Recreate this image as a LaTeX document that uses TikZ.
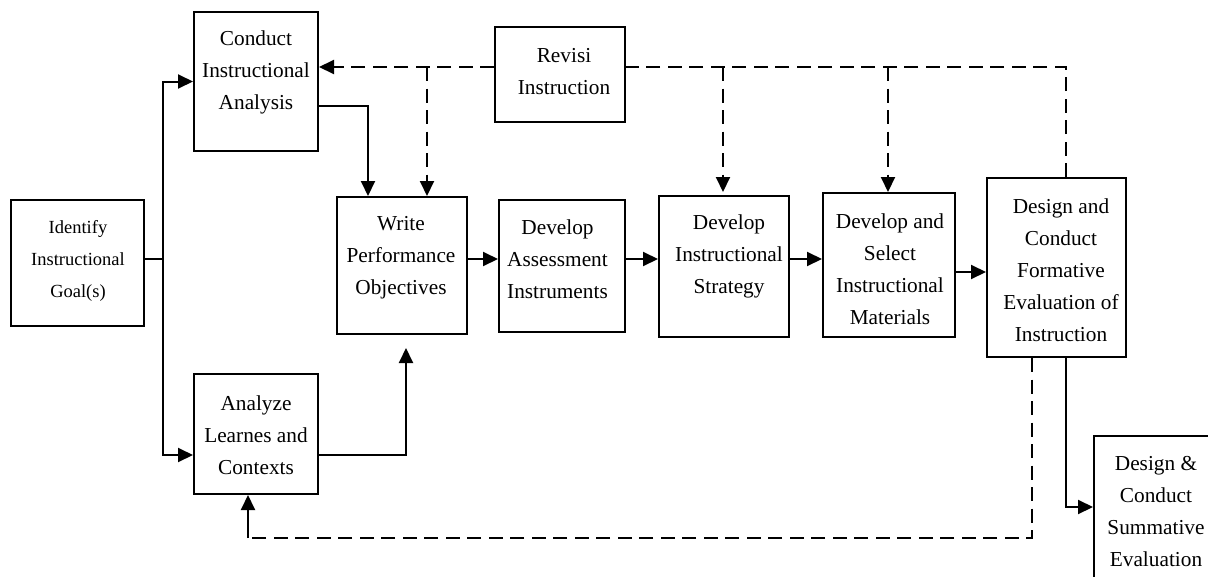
\documentclass[tikz,border=0pt]{standalone}
\usepackage{fontspec}
\setmainfont{Liberation Serif}
\usetikzlibrary{arrows.meta,calc}
\begin{document}
\begin{tikzpicture}[x=1pt,y=-1pt,
  box/.style={draw, line width=2pt, inner sep=0pt},
  txt/.style={align=center, inner sep=0pt, font=\fontsize{21.3}{32}\selectfont},
  smalltxt/.style={align=center, inner sep=0pt, font=\fontsize{18.5}{31.7}\selectfont},
  conn/.style={line width=2pt},
  arr/.style={conn, -{Triangle[length=15pt,width=14pt]}},
  fb/.style={line width=2pt, dash pattern=on 14pt off 7.5pt},
  fbarr/.style={fb, -{Triangle[length=15pt,width=14pt]}}]
\useasboundingbox (0,0) rectangle (1208,576);

% boxes
\node[box, minimum width=133pt, minimum height=126pt] (goal) at (77.5,263) {};
\node[box, minimum width=124pt, minimum height=139pt] (conduct) at (256,81.5) {};
\node[box, minimum width=124pt, minimum height=120pt] (analyze) at (256,434) {};
\node[box, minimum width=130pt, minimum height=95pt] (revisi) at (560,74.5) {};
\node[box, minimum width=130pt, minimum height=137pt] (write) at (402,265.5) {};
\node[box, minimum width=126pt, minimum height=132pt] (assess) at (562,266) {};
\node[box, minimum width=130pt, minimum height=141pt] (strat) at (724,266.5) {};
\node[box, minimum width=132pt, minimum height=144pt] (devsel) at (889,265) {};
\node[box, minimum width=139pt, minimum height=179pt] (design) at (1056.5,267.5) {};
\node[box, minimum width=120pt, minimum height=154pt] (summ) at (1154,513) {};

% texts
\node[smalltxt] (tgoal) at (78,261) {Identify\\Instructional\\Goal(s)};
\node[txt] (tconduct) at (256,72.5) {Conduct\\Instructional\\Analysis};
\node[txt] (tanalyze) at (256,435) {Analyze\\Learnes and\\Contexts};
\node[txt] (trevisi) at (564,71.5) {Revisi\\Instruction};
\node[txt] (twrite) at (401,257.5) {Write\\Performance\\Objectives};
\node[txt] (tassess) at (557.5,259.5) {Develop\\Assessment\\Instruments};
\node[txt] (tstrat) at (729,256) {Develop\\Instructional\\Strategy};
\node[txt] (tdevsel) at (890,269.5) {Develop and\\Select\\Instructional\\Materials};
\node[txt] (tdesign) at (1061,270.5) {Design and\\Conduct\\Formative\\Evaluation of\\Instruction};
\node[txt] (tsumm) at (1156,511.5) {Design \&\\Conduct\\Summative\\Evaluation};

% solid connectors
\coordinate (split) at (163,259);
\draw[conn] (goal.east |- split) -- (split);
\draw[arr] (split) |- (conduct.west);
\draw[arr] (split) |- (analyze.west |- 0,455);
\draw[arr] (conduct.east |- 0,106) -| (write.north -| 368,0);
\draw[arr, shorten >=13pt] (analyze.east |- 0,455) -| (write.south -| 406,0);
\draw[arr] (write.east |- 0,259) -- (assess.west |- 0,259);
\draw[arr] (assess.east |- 0,259) -- (strat.west |- 0,259);
\draw[arr] (strat.east |- 0,259) -- (devsel.west |- 0,259);
\draw[arr] (devsel.east |- 0,272) -- (design.west |- 0,272);
\draw[arr] (design.south -| 1066,0) |- (summ.west |- 0,507);

% dashed feedback (top)
\coordinate (fbtop) at (1066,67);
\coordinate (b1) at (427,67);
\coordinate (b2) at (723,67);
\coordinate (b3) at (888,67);
\draw[fb] (design.north -| fbtop) -- (fbtop) -- (revisi.east |- fbtop);
\draw[fbarr] (revisi.west |- fbtop) -- (conduct.east |- fbtop);
\draw[fbarr] (b1) -- (write.north -| b1);
\draw[fbarr, shorten >=3pt] (b2) -- (strat.north -| b2);
\draw[fbarr] (b3) -- (devsel.north -| b3);

% dashed feedback (bottom)
\coordinate (fbr) at (1032,538);
\coordinate (fbl) at (248,538);
\draw[fb] (design.south -| fbr) -- (fbr) -- (fbl);
\draw[arr] (fbl) -- (analyze.south -| fbl);
\end{tikzpicture}
\end{document}
